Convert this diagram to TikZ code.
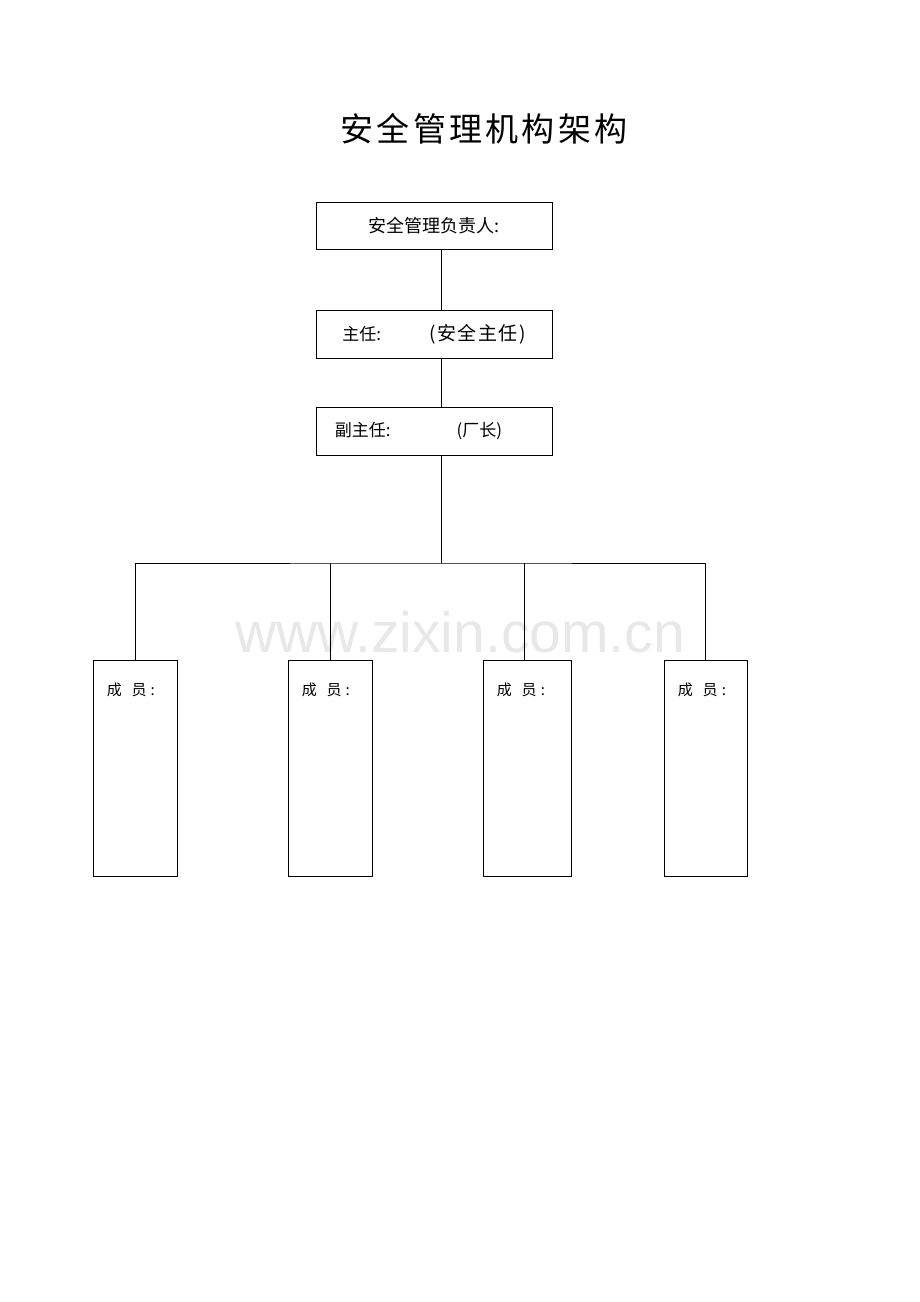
\documentclass[tikz,border=0pt]{standalone}
\usepackage{fontspec}
\setmainfont{Noto Sans CJK SC}
\newfontfamily\cjk{Noto Sans CJK SC}
\newfontfamily\markfont{Liberation Sans}
\usepackage{tikz}
\usetikzlibrary{positioning}

\tikzset{
    chartbox/.style={draw, rectangle, line width=0.9pt, inner sep=0pt, font=\cjk\fontsize{17}{20}\selectfont},
    memberbox/.style={draw, rectangle, line width=0.9pt, minimum width=84pt, minimum height=216pt, inner sep=0pt},
    memberlabel/.style={anchor=west, inner sep=0pt, font=\cjk\fontsize{15}{18}\selectfont},
    link/.style={line width=0.9pt}
}

\begin{document}
\begin{tikzpicture}[x=1pt, y=1pt]
        \useasboundingbox (0, 0) rectangle (920, -1302);

        % Watermark
        \node[text=black!9, font=\markfont\fontsize{57}{60}\selectfont, anchor=base] (mark) at (460, -652) {www.zixin.com.cn};

        % Title
        \node[font=\cjk\fontsize{33}{36}\selectfont\addfontfeature{LetterSpace=10}] (title) at (484, -129) {安全管理机构架构};

        % Nodes
        \node[chartbox, minimum width=236pt, minimum height=47pt, font=\cjk\fontsize{18}{21}\selectfont] (head) at (434, -225.5) {安全管理负责人:};
        \node[chartbox, minimum width=236pt, minimum height=48pt] (director) at (434, -334) {主任:\hspace{48pt}{\fontsize{19}{22}\selectfont\addfontfeature{LetterSpace=8}(安全主任)}};
        \node[chartbox, minimum width=236pt, minimum height=48pt] (deputy) at (434, -431) {副主任:\hspace{66pt}(厂长)\hspace*{31pt}};

        \node[memberbox] (m1) at (135, -768) {};
        \node[memberbox] (m2) at (330, -768) {};
        \node[memberbox, minimum width=88pt] (m3) at (527, -768) {};
        \node[memberbox, minimum width=83pt] (m4) at (705.5, -768) {};

        \foreach \m in {1, 2, 3, 4}
            \node[memberlabel] (t\m) at ([xshift=14pt, yshift=-30pt]m\m.north west) {成\hspace{10pt}员\hspace{4pt}:};

        % Lines
        \coordinate (bus) at (441, -563);
        \draw[link] (head.south -| bus) -- (director.north -| bus);
        \draw[link] (director.south -| bus) -- (deputy.north -| bus);
        \draw[link] (deputy.south -| bus) -- (bus);
        \draw[link] (m1.north) |- (bus) -| (m4.north);
        \draw[link] (m2.north) -- (m2.north |- bus);
        \draw[link] ([xshift=-3pt]m3.north) -- ([xshift=-3pt]m3.north |- bus);
    \end{tikzpicture}
\end{document}
